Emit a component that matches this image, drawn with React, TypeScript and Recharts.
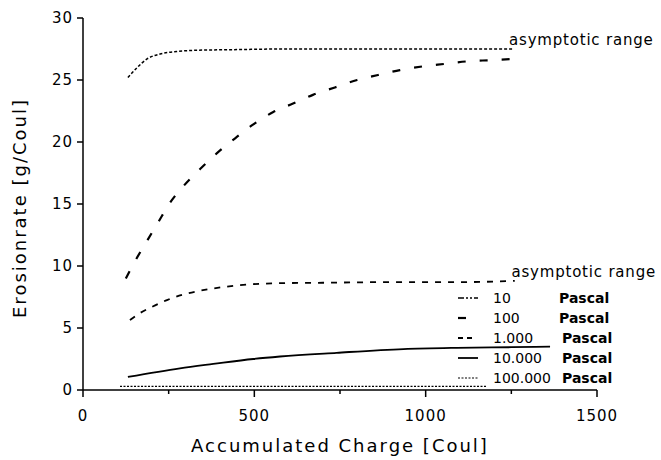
import { LineChart, Line, XAxis, YAxis, ReferenceDot } from 'recharts';

// Accumulated charge [Coul] vs erosion rate [g/Coul]
const pa10 = [
  { x: 131, y: 25.2 }, { x: 158, y: 26.0 }, { x: 187, y: 26.7 }, { x: 225, y: 27.1 },
  { x: 274, y: 27.3 }, { x: 332, y: 27.4 }, { x: 450, y: 27.45 }, { x: 575, y: 27.5 },
  { x: 800, y: 27.5 }, { x: 1000, y: 27.5 }, { x: 1255, y: 27.5 },
];
const pa100 = [
  { x: 125, y: 9.0 }, { x: 152, y: 10.4 }, { x: 184, y: 11.9 }, { x: 219, y: 13.5 },
  { x: 254, y: 15.1 }, { x: 295, y: 16.5 }, { x: 341, y: 17.8 }, { x: 391, y: 19.1 },
  { x: 444, y: 20.3 }, { x: 496, y: 21.4 }, { x: 554, y: 22.4 }, { x: 613, y: 23.1 },
  { x: 671, y: 23.8 }, { x: 735, y: 24.4 }, { x: 800, y: 25.0 }, { x: 861, y: 25.4 },
  { x: 925, y: 25.8 }, { x: 992, y: 26.1 }, { x: 1056, y: 26.3 }, { x: 1120, y: 26.5 },
  { x: 1188, y: 26.6 }, { x: 1260, y: 26.7 },
];
const pa1000 = [
  { x: 137, y: 5.65 }, { x: 166, y: 6.2 }, { x: 201, y: 6.7 }, { x: 245, y: 7.25 },
  { x: 292, y: 7.7 }, { x: 350, y: 8.05 }, { x: 408, y: 8.3 }, { x: 478, y: 8.5 },
  { x: 551, y: 8.6 }, { x: 700, y: 8.65 }, { x: 900, y: 8.7 }, { x: 1100, y: 8.7 },
  { x: 1260, y: 8.8 },
];
const pa10000 = [
  { x: 131, y: 1.05 }, { x: 283, y: 1.75 }, { x: 380, y: 2.1 }, { x: 497, y: 2.5 },
  { x: 575, y: 2.7 }, { x: 740, y: 3.0 }, { x: 935, y: 3.3 }, { x: 1091, y: 3.4 },
  { x: 1250, y: 3.45 }, { x: 1363, y: 3.5 },
];
const pa100000 = [
  { x: 108, y: 0.3 }, { x: 400, y: 0.3 }, { x: 800, y: 0.3 }, { x: 1178, y: 0.3 },
];

const xTicks = [0, 250, 500, 750, 1000, 1250, 1500];
const yTicks = [0, 5, 10, 15, 20, 25, 30];
const legendNums = ['10', '100', '1.000', '10.000', '100.000'];
const legendDash = ['6 2 2 2 2 2', '0', '5 4', '0', '2 1.5'];
const legendLen = [20, 8, 15, 20, 20];
const legendWidth = [1.5, 2.2, 1.8, 1.8, 1.2];

const font = '"DejaVu Sans", sans-serif';

function XTick({ x, y, payload }: any) {
  const major = payload.value % 500 === 0;
  return (
    <g>
      <line x1={x} x2={x} y1={y} y2={y + (major ? 7 : 4)} stroke="#000" strokeWidth={1.5} />
      {major && (
        <text x={x} y={y + 31} textAnchor="middle" fontSize={15} letterSpacing={1} fontFamily={font} fill="#000">
          {payload.value}
        </text>
      )}
    </g>
  );
}

function AsymLabel({ viewBox }: any) {
  return (
    <text x={viewBox.x - 4} y={viewBox.y - 4} fontSize={15} letterSpacing={0.8} fontFamily={font} fill="#000">
      asymptotic range
    </text>
  );
}

function PascalLegend() {
  return (
    <svg width={180} height={100} style={{ position: 'absolute', left: 455, top: 288 }}>
      {legendNums.map((n, i) => (
        <g key={n}>
          <line x1={3} x2={3 + legendLen[i]} y1={10 + i * 20} y2={10 + i * 20} stroke="#000"
            strokeWidth={legendWidth[i]} strokeDasharray={legendDash[i]} />
          <text x={38} y={15 + i * 20} fontSize={14} fontFamily={font} fill="#000">{n}</text>
          <text x={i < 2 ? 104 : 107} y={15 + i * 20} fontSize={14} fontWeight="bold" fontFamily={font} fill="#000">Pascal</text>
        </g>
      ))}
    </svg>
  );
}

export default function App() {
  return (
    <div style={{ position: 'absolute', left: 0, top: 0, width: 661, height: 460, background: '#fff' }}>
      <LineChart width={661} height={460} margin={{ top: 18, right: 64, bottom: 0, left: 0 }}>
        <XAxis type="number" dataKey="x" domain={[0, 1500]} ticks={xTicks} tick={<XTick />}
          tickLine={false} tickSize={0} tickMargin={0} height={70}
          axisLine={{ stroke: '#000', strokeWidth: 1.5 }} allowDataOverflow
          label={{ value: 'Accumulated Charge [Coul]', position: 'insideBottom', offset: 8, fontSize: 18, letterSpacing: 2, fontFamily: font, fill: '#000' }} />
        <YAxis type="number" domain={[0, 30]} ticks={yTicks} width={83} tickSize={6} tickMargin={4}
          tick={{ fontSize: 15, fontFamily: font, fill: '#000', letterSpacing: 1 }}
          tickLine={{ stroke: '#000', strokeWidth: 1.5 }} axisLine={{ stroke: '#000', strokeWidth: 1.5 }}
          label={{ value: 'Erosionrate [g/Coul]', angle: -90, position: 'insideLeft', offset: 20, dy: 4, fontSize: 18, letterSpacing: 2, fontFamily: font, fill: '#000', style: { textAnchor: 'middle' } }} />
        <Line data={pa10} dataKey="y" type="monotone" stroke="#000" strokeWidth={1.5} strokeDasharray="3 2" dot={false} isAnimationActive={false} />
        <Line data={pa100} dataKey="y" type="monotone" stroke="#000" strokeWidth={2.2} strokeDasharray="8 14" dot={false} isAnimationActive={false} />
        <Line data={pa1000} dataKey="y" type="monotone" stroke="#000" strokeWidth={1.8} strokeDasharray="6 7" dot={false} isAnimationActive={false} />
        <Line data={pa10000} dataKey="y" type="monotone" stroke="#000" strokeWidth={1.8} dot={false} isAnimationActive={false} />
        <Line data={pa100000} dataKey="y" type="monotone" stroke="#000" strokeWidth={1.2} strokeDasharray="2 1.5" dot={false} isAnimationActive={false} />
        <ReferenceDot x={1255} y={27.5} r={0} stroke="none" label={<AsymLabel />} />
        <ReferenceDot x={1262} y={8.8} r={0} stroke="none" label={<AsymLabel />} />
      </LineChart>
      <PascalLegend />
    </div>
  );
}
